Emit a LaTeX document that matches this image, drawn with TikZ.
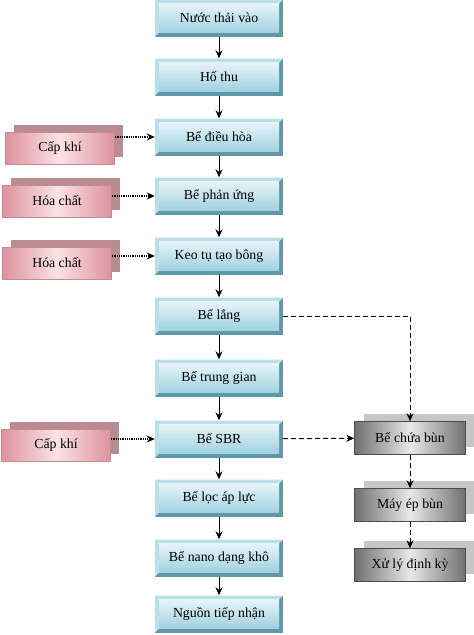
\documentclass[tikz,border=0pt]{standalone}
\usepackage{fontspec}
\setmainfont{Liberation Serif}
\usetikzlibrary{arrows.meta,shadows}
\definecolor{bevlight}{RGB}{186,223,232}
\definecolor{bevdark}{RGB}{96,152,168}
\definecolor{facetop}{RGB}{230,244,248}
\definecolor{facebot}{RGB}{160,209,224}
\definecolor{pinkedge}{RGB}{222,146,158}
\definecolor{pinkmid}{RGB}{250,226,230}
\definecolor{pinkshadow}{RGB}{186,140,146}
\definecolor{greydark}{RGB}{112,112,112}
\definecolor{greylight}{RGB}{232,232,232}
\definecolor{greyshadow}{RGB}{198,198,198}

\begin{document}
\begin{tikzpicture}
[x=1pt,y=-1pt,>={Stealth[length=8pt,width=7pt]},font=\fontsize{13.8}{16}\selectfont,
stage/.style={minimum width=128pt,minimum height=37pt,inner sep=0pt,fill=bevdark,
  path picture={
    \path (path picture bounding box.north west) coordinate (pnw)
          (path picture bounding box.north east) coordinate (pne)
          (path picture bounding box.south west) coordinate (psw)
          (path picture bounding box.south east) coordinate (pse);
    \fill[bevlight] (psw) -- (pnw) -- (pne) -- ([shift={(-4pt,-4pt)}]pne)
      -- ([shift={(4pt,-4pt)}]pnw) -- ([shift={(4pt,4pt)}]psw) -- cycle;
    \shade[top color=facetop,bottom color=facebot]
      ([shift={(4pt,-4pt)}]pnw) rectangle ([shift={(-4pt,4pt)}]pse);}},
feed/.style={minimum width=109pt,minimum height=32pt,inner sep=0pt,draw=pinkedge!70!gray,
  left color=pinkedge,right color=pinkedge,middle color=pinkmid,
  copy shadow={shadow xshift=8pt,shadow yshift=7pt,fill=pinkshadow,draw=none}},
sludge/.style={minimum width=111pt,minimum height=33pt,inner sep=0pt,draw=gray!60!black,
  left color=greydark,right color=greydark,middle color=greylight,
  copy shadow={shadow xshift=9pt,shadow yshift=8pt,fill=greyshadow,draw=none}},
flow/.style={->,line width=0.9pt},
dose/.style={->,line width=1.3pt,dash pattern=on 1pt off 0.8pt},
mud/.style={->,line width=1pt,dash pattern=on 5pt off 3pt},]

\useasboundingbox (0,0) rectangle (474,635);

%Main line
\node (A) at (219,18)[stage] {Nước thải vào};
\node (B) at (219,77)[stage] {Hố thu};
\node (C) at (219,137)[stage] {Bể điều hòa};
\node (D) at (219,196)[stage] {Bể phản ứng};
\node (E) at (219,256)[stage] {Keo tụ tạo bông};
\node (F) at (219,316)[stage] {Bể lắng};
\node (G) at (219,378)[stage] {Bể trung gian};
\node (H) at (219,439)[stage] {Bể SBR};
\node (I) at (219,498)[stage] {Bể lọc áp lực};
\node (J) at (219,558)[stage] {Bể nano dạng khô};
\node (K) at (219,614)[stage] {Nguồn tiếp nhận};

%Inputs
\node (P1) at (60,148)[feed] {Cấp khí};
\node (P2) at (57,201)[feed] {Hóa chất};
\node (P3) at (57,263)[feed] {Hóa chất};
\node (P4) at (56,445)[feed] {Cấp khí};

%Sludge line
\node (S1) at (410,438)[sludge] {Bể chứa bùn};
\node (S2) at (410,505)[sludge] {Máy ép bùn};
\node (S3) at (410,565)[sludge] {Xử lý định kỳ};

\foreach \u/\v in {A/B,B/C,C/D,D/E,E/F,F/G,G/H,H/I,I/J,J/K}
  \draw[flow] (\u) -- (\v);

\draw[dose] (P1.east |- C) -- (C);
\draw[dose] (P2.east |- D) -- (D);
\draw[dose] (P3.east |- E) -- (E);
\draw[dose] (P4.east |- H) -- (H);

\draw[mud] (F) -| (S1);
\draw[mud] (H) -- (S1);
\draw[mud] (S1) -- (S2);
\draw[mud] (S2) -- (S3);
\end{tikzpicture}
\end{document}
